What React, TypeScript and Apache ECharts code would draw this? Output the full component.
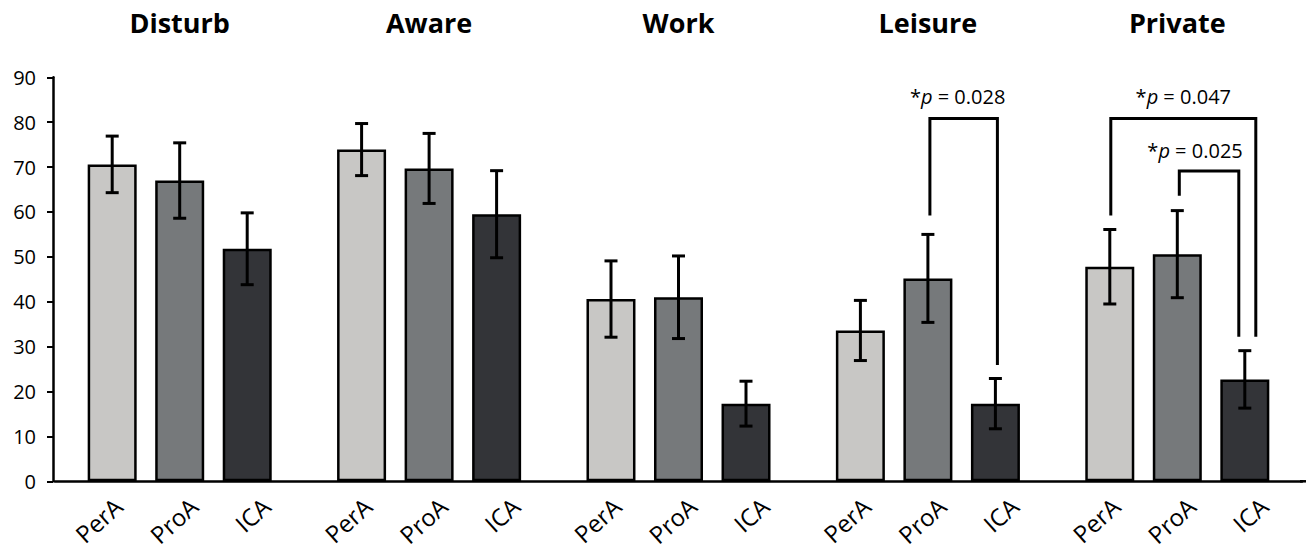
import React, { useEffect, useRef } from "react";
import * as echarts from "echarts";

const groups = ["Disturb", "Aware", "Work", "Leisure", "Private"];
const conditions = ["PerA", "ProA", "ICA"];
const perAMeans = [70.6, 73.9, 40.6, 33.6, 47.8];
const proAMeans = [67.0, 69.7, 41.0, 45.2, 50.6];
const icaMeans = [51.8, 59.5, 17.3, 17.3, 22.7];
const perAErr = [6.3, 5.8, 8.5, 6.7, 8.3];
const proAErr = [8.4, 7.8, 9.2, 9.8, 9.7];
const icaErr = [8.0, 9.7, 5.0, 5.6, 6.4];
const yTicks = { min: 0, max: 90, interval: 10 };

// significance annotations: group index, bar indices, bracket top / end values (axis units)
const brackets = [
  { group: 3, from: 1, to: 2, top: 80.8, leftEnd: 59.2, rightEnd: 25.9, labelY: 85.8, p: "0.028" },
  { group: 4, from: 0, to: 2, top: 80.8, leftEnd: 59.2, rightEnd: 32.2, labelY: 85.8, p: "0.047" },
  { group: 4, from: 1, to: 2, top: 69.1, leftEnd: 63.6, rightEnd: 32.2, labelY: 73.7, p: "0.025" },
];
// pixel tweaks for bracket ends and labels
const bracketStyle = [
  { dl: 2, dr: 2, dt: -6 },
  { dl: 1, dr: 11, dt: 0 },
  { dl: 2, dr: -6, dt: -14 },
];

const colors = ["#c8c7c5", "#76797b", "#333438"];
const FONT = "'Open Sans', 'DejaVu Sans', sans-serif";
const STEP = 67.5;
const BAR_W = 49;
const labelShift = [6, 14, 19];

export default function App() {
  const ref = useRef<HTMLDivElement>(null);
  useEffect(() => {
    const el = ref.current!;
    const chart = echarts.init(el, null, { renderer: "svg" });
    const means = [perAMeans, proAMeans, icaMeans];
    const errs = [perAErr, proAErr, icaErr];

    const errData: number[][] = [];
    const lblData: number[][] = [];
    groups.forEach((_, g) => {
      for (let b = 0; b < 3; b++) {
        errData.push([g, b, means[b][g], errs[b][g]]);
        lblData.push([g, b, 0]);
      }
    });

    const option: any = {
      animation: false,
      backgroundColor: "#ffffff",
      grid: { left: 55, right: 4, top: 77.3, bottom: 74.7, containLabel: false },
      xAxis: [
        {
          type: "category",
          data: groups,
          position: "bottom",
          axisLine: { show: true, lineStyle: { color: "#000", width: 2.5 } },
          axisTick: { show: false },
          axisLabel: { show: false },
        },
        {
          type: "category",
          data: groups,
          position: "top",
          axisLine: { show: false },
          axisTick: { show: false },
          axisLabel: {
            show: true,
            fontFamily: FONT,
            fontWeight: "bold",
            fontSize: 27,
            color: "#000",
            margin: 41,
          },
        },
      ],
      yAxis: {
        type: "value",
        min: yTicks.min,
        max: yTicks.max,
        interval: yTicks.interval,
        offset: 2,
        splitLine: { show: false },
        axisLine: { show: true, lineStyle: { color: "#000", width: 2.5 } },
        axisTick: { show: true, length: 6, lineStyle: { color: "#000", width: 2 } },
        axisLabel: { fontFamily: FONT, fontSize: 20, color: "#000", margin: 17 },
      },
      series: [
        ...conditions.map((c, i) => ({
          name: c,
          type: "bar",
          data: means[i],
          barWidth: BAR_W,
          barGap: ((STEP - BAR_W) / BAR_W * 100).toFixed(1) + "%",
          itemStyle: { color: colors[i], borderColor: "#000", borderWidth: 2.5 },
          z: 2,
        })),
        {
          type: "custom",
          z: 5,
          data: errData,
          renderItem: (params: any, api: any) => {
            const g = api.value(0);
            const b = api.value(1);
            const m = api.value(2);
            const e = api.value(3);
            const top = api.coord([g, m + e]);
            const bot = api.coord([g, m - e]);
            const x = top[0] + (b - 1) * STEP;
            const cap = 6.5;
            const st = { stroke: "#000", lineWidth: 3 };
            return {
              type: "group",
              children: [
                { type: "line", shape: { x1: x, y1: top[1], x2: x, y2: bot[1] }, style: st },
                { type: "line", shape: { x1: x - cap, y1: top[1], x2: x + cap, y2: top[1] }, style: st },
                { type: "line", shape: { x1: x - cap, y1: bot[1], x2: x + cap, y2: bot[1] }, style: st },
              ],
            };
          },
        },
        {
          type: "custom",
          z: 5,
          data: lblData,
          renderItem: (params: any, api: any) => {
            const g = api.value(0);
            const b = api.value(1);
            const p = api.coord([g, 0]);
            const x = p[0] + (b - 1) * STEP + labelShift[b];
            return {
              type: "text",
              x: x,
              y: p[1] + 21,
              rotation: (42 * Math.PI) / 180,
              style: {
                text: conditions[b],
                fontFamily: FONT,
                fontSize: 24,
                fill: "#000",
                align: "right",
                verticalAlign: "middle",
              },
            };
          },
        },
        {
          type: "custom",
          z: 6,
          data: brackets.map((br) => [br.group, br.top]),
          renderItem: (params: any, api: any) => {
            const br = brackets[params.dataIndex];
            const s = bracketStyle[params.dataIndex];
            const base = api.coord([br.group, br.top]);
            const xl = base[0] + (br.from - 1) * STEP + s.dl;
            const xr = base[0] + (br.to - 1) * STEP + s.dr;
            const yt = base[1];
            const yl = api.coord([br.group, br.leftEnd])[1];
            const yr = api.coord([br.group, br.rightEnd])[1];
            const ly = api.coord([br.group, br.labelY])[1];
            const st = { stroke: "#000", lineWidth: 3, fill: null };
            return {
              type: "group",
              children: [
                {
                  type: "polyline",
                  shape: { points: [[xl, yl], [xl, yt], [xr, yt], [xr, yr]] },
                  style: st,
                },
                {
                  type: "text",
                  x: (xl + xr) / 2 + s.dt,
                  y: ly,
                  style: {
                    text: "{n|*}{i|p}{n| = " + br.p + "}",
                    align: "center",
                    verticalAlign: "middle",
                    rich: {
                      n: { fontFamily: FONT, fontSize: 20, fill: "#000" },
                      i: { fontFamily: FONT, fontSize: 20, fontStyle: "italic", fill: "#000" },
                    },
                  },
                },
              ],
            };
          },
        },
      ],
      graphic: [
        {
          type: "line",
          shape: { x1: 1300, y1: 481.3, x2: 1306, y2: 481.3 },
          style: { stroke: "#000", lineWidth: 2.5 },
        },
      ],
    };
    chart.setOption(option);
    return () => chart.dispose();
  }, []);
  return (
    <div
      ref={ref}
      style={{ position: "fixed", left: 0, top: 0, width: 1306, height: 556, background: "#fff" }}
    />
  );
}
